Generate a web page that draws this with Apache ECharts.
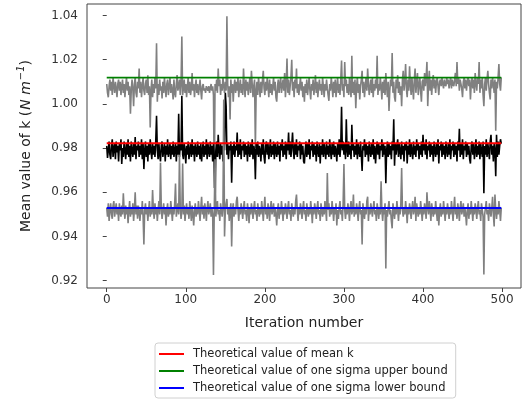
<!DOCTYPE html>
<html>
<head>
<meta charset="utf-8">
<script src="https://cdn.jsdelivr.net/npm/echarts@6/dist/echarts.min.js"></script>
<style>html,body{margin:0;padding:0;background:#fff}#c{width:523px;height:402px}</style>
</head>
<body>
<div id="c"></div>
<script>
// Theoretical values
const meanK = 0.9822;
const upperK = 1.0119;
const lowerK = 0.9529;
const xTicks = [0, 100, 200, 300, 400, 500];
const yTicks = [0.92, 0.94, 0.96, 0.98, 1.00, 1.02, 1.04];
const legendNames = ['Theoretical value of mean k', 'Theoretical value of one sigma upper bound', 'Theoretical value of one sigma lower bound'];

// Simulated mean k + 1 sigma per iteration (grey, upper)
const upperSeries = [
1.009,1.005,1.003,1.008,1.011,1.006,1.010,1.004,1.012,1.008,1.005,1.010,1.007,1.003,1.009,1.011,1.006,1.010,1.004,1.008,
1.011,1.005,1.009,1.003,1.008,1.012,1.006,1.010,1.004,1.008,0.9955,1.006,1.011,1.007,0.999,1.009,1.012,1.005,1.003,1.010,
1.007,1.016,1.005,1.010,1.003,1.008,1.012,1.006,1.004,1.009,1.011,1.005,1.013,1.004,1.008,0.9893,1.006,1.011,1.003,1.009,
1.005,1.012,1.007,1.0274,1.001,1.009,1.004,1.011,1.006,1.008,1.0025,1.010,1.005,1.012,1.007,1.003,1.009,1.011,1.004,1.008,
1.012,1.005,1.009,1.006,1.002,1.011,1.005,1.003,1.009,1.013,1.006,1.008,1.011,1.004,1.009,1.0305,1.004,1.007,1.011,1.005,
1.009,1.003,1.008,1.012,1.005,1.010,1.004,1.007,1.014,1.006,1.009,1.003,1.008,1.011,1.005,1.009,1.004,1.007,1.011,1.006,
1.002,1.008,1.009,1.006,1.007,1.005,1.008,1.007,1.006,1.008,1.005,1.007,1.009,1.006,1.008,1.004,0.962,1.009,1.006,1.011,
1.005,1.016,1.008,1.011,1.004,1.009,1.006,1.012,1.008,1.005,1.010,1.006,1.0396,1.009,1.003,1.008,0.993,1.011,1.005,1.009,
1.001,1.008,1.011,1.005,1.010,1.006,1.012,1.003,1.008,1.011,1.005,1.009,1.004,1.016,1.008,1.003,1.011,1.006,1.010,1.004,
1.008,1.012,1.005,1.015,1.009,1.003,1.008,1.011,0.980,1.006,1.010,1.004,1.012,1.008,1.003,1.010,1.005,1.011,1.015,1.007,
1.004,1.010,1.006,1.012,1.008,1.003,1.011,1.005,1.009,1.004,1.008,1.012,1.006,1.010,1.003,1.001,1.008,1.011,1.005,1.009,
1.012,1.005,1.008,1.011,1.006,1.014,1.003,1.009,1.0205,1.005,1.011,1.004,1.008,1.012,1.020,1.006,1.010,1.003,1.011,1.007,
1.016,1.005,1.009,1.004,1.008,1.012,1.006,1.010,1.003,1.008,1.001,1.009,1.005,1.011,1.004,1.008,1.012,1.006,1.002,1.009,
1.006,1.011,1.004,1.008,1.013,1.005,1.010,1.003,1.008,1.011,1.006,1.009,1.004,1.012,1.008,1.003,1.009,1.006,1.011,1.007,
1.004,1.0014,1.009,1.006,1.012,1.008,1.003,1.010,1.005,1.011,1.003,1.008,1.012,1.005,1.009,1.004,1.011,1.0196,1.006,1.009,
1.003,1.019,1.008,1.011,1.005,1.009,1.004,1.012,1.007,1.003,1.0218,1.005,1.010,1.004,1.011,0.998,1.008,1.012,1.005,1.009,
1.002,1.008,1.011,1.015,1.005,1.010,1.003,1.008,1.012,1.006,1.016,1.009,1.004,1.008,1.011,1.005,1.012,1.003,1.009,1.006,
1.011,1.007,1.0218,1.004,1.009,1.006,1.012,1.008,1.002,1.010,1.005,1.011,1.004,1.014,1.008,1.003,1.010,0.9968,1.006,1.011,
1.008,1.023,1.005,1.010,1.003,1.001,1.011,1.007,1.013,1.005,1.010,1.004,1.008,0.999,1.011,1.015,1.006,1.010,1.018,1.007,
1.003,1.011,1.006,1.017,1.009,1.004,1.012,1.007,1.002,1.011,1.016,1.005,1.010,1.014,1.004,1.008,1.012,1.006,1.001,1.010,
1.011,1.006,1.014,1.008,1.012,1.019,0.999,1.009,1.015,1.006,1.011,1.004,1.010,1.013,1.007,1.011,1.005,1.010,1.012,1.008,
1.004,1.010,1.011,1.008,1.012,1.009,1.007,1.011,1.009,1.008,1.012,1.009,1.011,1.007,1.010,1.012,1.007,1.011,1.009,1.008,
1.011,1.014,1.008,1.019,1.009,1.012,1.006,1.011,1.009,1.007,1.003,1.010,1.012,1.007,1.011,1.006,1.010,1.012,1.008,1.011,
1.002,1.009,1.012,1.007,1.011,1.005,1.014,1.009,1.006,1.012,1.009,1.019,1.005,1.011,1.007,1.012,1.004,0.999,1.009,1.012,
1.006,1.011,1.015,1.009,1.005,1.002,1.011,1.007,1.012,1.009,1.005,1.011,0.9878,1.010,1.007,1.012,1.018,1.009,1.006,1.012
];

// Simulated mean k per iteration (black)
const meanSeries = [
0.981,0.9756,0.979,0.983,0.977,0.975,0.981,0.984,0.976,0.980,0.982,0.975,0.983,0.978,0.981,0.974,0.982,0.979,0.984,0.9728,
0.980,0.976,0.983,0.979,0.975,0.982,0.977,0.984,0.976,0.981,0.974,0.983,0.979,0.976,0.982,0.977,0.985,0.975,0.981,0.979,
0.983,0.976,0.981,0.977,0.984,0.975,0.982,0.9705,0.979,0.983,0.976,0.981,0.974,0.982,0.977,0.984,0.979,0.975,0.982,0.977,
0.981,0.976,0.983,0.9946,0.979,0.975,0.982,0.977,0.974,0.981,0.983,0.976,0.979,0.982,0.974,0.981,0.977,0.984,0.976,0.979,
0.982,0.975,0.981,0.977,0.983,0.976,0.979,0.982,0.974,0.981,0.977,0.9955,0.976,0.982,0.979,1.0037,0.977,0.975,0.982,0.979,
0.973,0.981,0.977,0.983,0.975,0.979,0.982,0.976,0.984,0.977,0.981,0.974,0.982,0.979,0.976,0.983,0.977,0.981,0.975,0.982,
0.974,0.979,0.983,0.976,0.981,0.977,0.984,0.975,0.982,0.979,0.976,0.983,0.977,0.981,0.974,0.982,0.977,0.9537,0.979,0.983,
0.976,0.986,0.979,0.975,0.982,0.977,0.981,0.974,0.983,0.979,1.005,0.999,0.977,0.982,0.975,0.981,0.979,0.983,0.9643,0.981,
0.977,0.983,0.976,0.981,0.979,0.987,0.976,0.982,0.977,0.984,0.975,0.981,0.979,0.983,0.976,0.982,0.977,0.981,0.974,0.983,
0.979,0.976,0.982,0.977,0.984,0.975,0.981,0.979,0.9659,0.982,0.977,0.983,0.976,0.981,0.979,0.974,0.982,0.977,0.984,0.976,
0.973,0.981,0.983,0.977,0.982,0.975,0.979,0.984,0.976,0.981,0.977,0.983,0.975,0.982,0.979,0.976,0.983,0.977,0.981,0.974,
0.982,0.979,0.984,0.976,0.981,0.977,0.983,0.975,0.982,0.979,0.987,0.977,0.983,0.976,0.981,0.987,0.979,0.975,0.982,0.977,
0.984,0.976,0.981,0.979,0.983,0.975,0.982,0.977,0.981,0.974,0.973,0.979,0.983,0.976,0.982,0.977,0.984,0.975,0.981,0.979,
0.983,0.976,0.982,0.977,0.981,0.974,0.983,0.979,0.976,0.982,0.973,0.981,0.977,0.984,0.976,0.982,0.979,0.975,0.983,0.977,
0.981,0.976,0.984,0.979,0.975,0.982,0.977,0.983,0.976,0.981,0.979,0.974,0.982,0.977,0.984,0.976,0.981,0.9987,0.979,0.983,
0.977,0.982,0.975,0.993,0.979,0.976,0.983,0.977,0.981,0.975,0.9905,0.979,0.982,0.976,0.981,0.977,0.984,0.975,0.982,0.979,
0.976,0.983,0.977,0.9696,0.981,0.979,0.984,0.976,0.982,0.977,0.981,0.974,0.983,0.979,0.976,0.982,0.977,0.984,0.975,0.981,
0.973,0.979,0.983,0.977,0.982,0.975,0.981,0.979,0.984,0.976,0.982,0.977,0.981,0.9641,0.979,0.983,0.976,0.982,0.977,0.981,
0.975,0.983,0.979,0.993,0.972,0.982,0.977,0.981,0.984,0.976,0.982,0.979,0.975,0.983,0.977,0.981,0.974,0.982,0.979,0.983,
0.973,0.981,0.977,0.984,0.976,0.982,0.979,0.975,0.983,0.977,0.981,0.976,0.984,0.979,0.982,0.975,0.981,0.977,0.983,0.976,
0.986,0.979,0.982,0.977,0.984,0.975,0.981,0.979,0.983,0.976,0.982,0.977,0.981,0.974,0.983,0.979,0.976,0.982,0.977,0.984,
0.973,0.981,0.979,0.983,0.976,0.982,0.977,0.981,0.975,0.983,0.979,0.976,0.982,0.977,0.984,0.975,0.981,0.979,0.983,0.976,
0.982,0.977,0.981,0.974,0.983,0.979,0.9887,0.976,0.982,0.977,0.984,0.975,0.981,0.979,0.983,0.976,0.982,0.977,0.981,0.975,
0.973,0.981,0.983,0.977,0.982,0.975,0.979,0.984,0.976,0.981,0.977,0.983,0.975,0.982,0.979,0.976,0.983,0.9596,0.981,0.977,
0.984,0.976,0.982,0.979,0.975,0.983,0.986,0.977,0.981,0.974,0.982,0.979,0.9673,0.986,0.976,0.983,0.977,0.981,0.984,0.982
];

// Simulated mean k - 1 sigma per iteration (grey, lower)
const lowerSeries = [
0.953,0.949,0.955,0.947,0.952,0.955,0.950,0.948,0.954,0.956,0.949,0.952,0.955,0.950,0.953,0.947,0.955,0.951,0.949,0.954,
0.950,0.9596,0.952,0.948,0.954,0.950,0.953,0.946,0.952,0.956,0.949,0.953,0.950,0.955,0.947,0.952,0.960,0.950,0.954,0.948,
0.954,0.951,0.947,0.953,0.950,0.956,0.949,0.9364,0.952,0.955,0.950,0.953,0.947,0.952,0.956,0.949,0.953,0.950,0.961,0.952,
0.948,0.955,0.950,0.953,0.947,0.952,0.956,0.950,0.9734,0.953,0.948,0.952,0.955,0.950,0.953,0.945,0.952,0.955,0.949,0.953,
0.950,0.956,0.952,0.947,0.953,0.950,0.955,0.964,0.949,0.952,0.955,0.950,0.977,0.953,0.948,0.952,0.973,0.950,0.954,0.947,
0.952,0.955,0.950,0.953,0.948,0.956,0.952,0.947,0.954,0.950,0.945,0.952,0.955,0.949,0.953,0.950,0.956,0.952,0.947,0.953,
0.958,0.950,0.954,0.948,0.955,0.952,0.947,0.953,0.956,0.950,0.952,0.955,0.949,0.953,0.950,0.9226,0.952,0.975,0.949,0.953,
0.956,0.950,0.952,0.947,0.955,0.952,0.949,0.953,1.002,0.940,0.952,0.955,0.957,0.950,0.953,0.947,0.952,0.955,0.9355,0.952,
0.955,0.949,0.953,0.950,0.956,0.958,0.952,0.947,0.953,0.950,0.955,0.952,0.948,0.953,0.956,0.950,0.952,0.947,0.955,0.952,
0.946,0.953,0.950,0.955,0.952,0.948,0.953,0.956,0.950,0.952,0.947,0.955,0.952,0.949,0.953,0.950,0.956,0.952,0.947,0.953,
0.958,0.950,0.953,0.948,0.955,0.952,0.947,0.953,0.956,0.950,0.952,0.955,0.949,0.953,0.950,0.945,0.952,0.955,0.948,0.953,
0.950,0.956,0.952,0.947,0.953,0.950,0.955,0.952,0.948,0.953,0.956,0.950,0.952,0.947,0.955,0.952,0.949,0.953,0.950,0.956,
0.959,0.952,0.947,0.953,0.950,0.955,0.952,0.948,0.953,0.956,0.950,0.952,0.947,0.955,0.952,0.949,0.953,0.950,0.956,0.952,
0.946,0.953,0.950,0.955,0.952,0.948,0.953,0.956,0.950,0.952,0.947,0.955,0.952,0.949,0.953,0.950,0.956,0.952,0.947,0.9687,
0.952,0.955,0.949,0.953,0.950,0.956,0.952,0.947,0.953,0.950,0.955,0.945,0.952,0.948,0.953,0.956,0.950,0.952,0.947,0.955,
0.9728,0.952,0.948,0.953,0.950,0.955,0.952,0.947,0.953,0.956,0.950,0.952,0.959,0.949,0.953,0.950,0.955,0.952,0.947,0.953,
0.956,0.950,0.952,0.9364,0.955,0.952,0.948,0.953,0.950,0.956,0.958,0.947,0.953,0.950,0.955,0.952,0.949,0.953,0.956,0.950,
0.952,0.947,0.955,0.952,0.948,0.953,0.950,0.965,0.952,0.947,0.953,0.950,0.955,0.9255,0.952,0.949,0.953,0.956,0.950,0.952,
0.947,0.9437,0.955,0.952,0.948,0.953,0.950,0.956,0.952,0.947,0.953,0.950,0.955,0.971,0.952,0.949,0.953,0.950,0.956,0.952,
0.946,0.953,0.950,0.955,0.952,0.948,0.953,0.956,0.950,0.952,0.958,0.947,0.955,0.952,0.949,0.953,0.950,0.956,0.952,0.947,
0.953,0.950,0.955,0.952,0.948,0.960,0.953,0.950,0.956,0.952,0.947,0.955,0.952,0.949,0.953,0.950,0.956,0.952,0.947,0.953,
0.945,0.952,0.955,0.949,0.953,0.950,0.956,0.952,0.947,0.953,0.950,0.955,0.952,0.948,0.953,0.950,0.956,0.952,0.947,0.953,
0.958,0.950,0.953,0.948,0.955,0.952,0.947,0.953,0.956,0.950,0.952,0.955,0.949,0.953,0.950,0.945,0.952,0.955,0.948,0.953,
0.950,0.956,0.952,0.947,0.953,0.950,0.955,0.952,0.948,0.953,0.956,0.950,0.952,0.947,0.955,0.952,0.949,0.9228,0.950,0.953,
0.956,0.950,0.952,0.947,0.955,0.952,0.949,0.953,0.958,0.950,0.9445,0.959,0.952,0.948,0.953,0.950,0.956,0.952,0.947,0.953
];

const toPts = arr => arr.map((v, i) => [i, v]);
const lastIt = upperSeries.length - 1;
const flat = v => [[0, v], [lastIt, v]];

const chart = echarts.init(document.getElementById('c'), null, {renderer: 'canvas'});
const FONT = 'DejaVu Sans';
const lineBase = {type: 'line', symbol: 'none', showSymbol: false, silent: true, animation: false};

chart.setOption({
  animation: false,
  backgroundColor: '#fff',
  textStyle: {fontFamily: FONT},
  grid: {left: 87, right: 2, top: 4, bottom: 114, show: true, borderColor: '#444', borderWidth: 1, backgroundColor: '#fff'},
  legend: {
    data: legendNames,
    orient: 'vertical',
    left: 155, top: 343,
    icon: 'rect', itemWidth: 25, itemHeight: 2, itemGap: 5,
    padding: [5, 8, 4, 4],
    borderColor: '#d0d0d0', borderWidth: 1, borderRadius: 3,
    backgroundColor: '#fff',
    textStyle: {fontFamily: FONT, fontSize: 11.5, color: '#222', padding: [0, 0, 0, 4]},
    selectedMode: false
  },
  xAxis: {
    type: 'value', min: -24.95, max: 523.95,
    name: 'Iteration number', nameLocation: 'middle', nameGap: 28,
    nameTextStyle: {fontFamily: FONT, fontSize: 14, color: '#222'},
    axisLine: {show: false},
    splitLine: {show: false},
    axisTick: {show: true, length: 4, lineStyle: {color: '#444'}, customValues: xTicks},
    axisLabel: {fontFamily: FONT, fontSize: 12, color: '#333', margin: 6, customValues: xTicks}
  },
  yAxis: {
    type: 'value', min: 0.9167, max: 1.0452,
    name: '{a|Mean value of k (}{i|N m}{s|−1}{a|)}', nameLocation: 'middle', nameGap: 51, nameRotate: 90,
    nameTextStyle: {
      fontFamily: FONT, fontSize: 14, color: '#222',
      rich: {
        a: {fontFamily: FONT, fontSize: 14, color: '#222', lineHeight: 20},
        i: {fontFamily: FONT, fontSize: 14, color: '#222', fontStyle: 'italic', padding: [0, 0, 0, 1], lineHeight: 20},
        s: {fontFamily: FONT, fontSize: 10, color: '#222', fontStyle: 'italic', verticalAlign: 'top', lineHeight: 20, padding: [0, 0, 8, 1]}
      }
    },
    axisLine: {show: false},
    splitLine: {show: false},
    axisTick: {show: true, length: 4, lineStyle: {color: '#444'}, customValues: yTicks},
    axisLabel: {fontFamily: FONT, fontSize: 12, color: '#333', margin: 9, customValues: yTicks,
      formatter: v => v.toFixed(2)}
  },
  series: [
    Object.assign({name: 'upper sim', data: toPts(upperSeries), lineStyle: {color: '#808080', width: 1.6}, z: 2}, lineBase),
    Object.assign({name: 'mean sim', data: toPts(meanSeries), lineStyle: {color: '#000', width: 1.6}, z: 2}, lineBase),
    Object.assign({name: 'lower sim', data: toPts(lowerSeries), lineStyle: {color: '#808080', width: 1.6}, z: 2}, lineBase),
    Object.assign({name: legendNames[0], data: flat(meanK), lineStyle: {color: '#ff0000', width: 1.8}, itemStyle: {color: '#ff0000'}, z: 3}, lineBase),
    Object.assign({name: legendNames[1], data: flat(upperK), lineStyle: {color: '#008000', width: 1.8}, itemStyle: {color: '#008000'}, z: 3}, lineBase),
    Object.assign({name: legendNames[2], data: flat(lowerK), lineStyle: {color: '#0000ff', width: 1.8}, itemStyle: {color: '#0000ff'}, z: 3}, lineBase)
  ]
});
</script>
</body>
</html>
